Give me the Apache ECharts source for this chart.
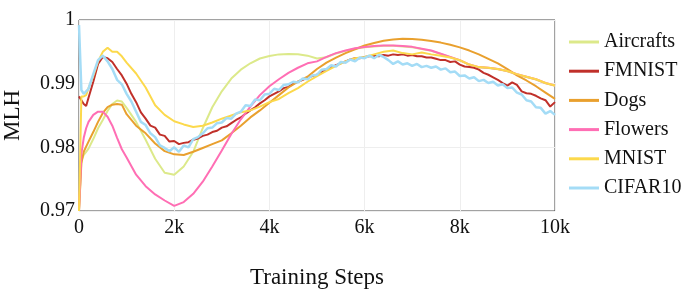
<!DOCTYPE html>
<html>
<head>
<meta charset="utf-8">
<script src="https://cdn.jsdelivr.net/npm/echarts@6/dist/echarts.min.js"></script>
<style>html,body{margin:0;padding:0;background:#fff;}#c{width:700px;height:291px;}</style>
</head>
<body>
<div id="c"></div>
<script>
const steps = [0,50,100,150,200,300,400,500,600,700,800,900,1000,
  1200,1400,1600,1800,2000,2200,2400,2600,2800,3000,3200,3400,3600,3800,4000,
  4200,4400,4600,4800,5000,5200,5400,5600,5800,6000,6200,6400,6600,6800,7000,
  7200,7400,7600,7800,8000,8200,8400,8600,8800,9000,9200,9400,9600,9800,10000];

const fineSteps = [0,50,100,150,200,300,400,500,600,700,800,900,1000,
  1100,1200,1300,1400,1500,1600,1700,1800,1900,2000,2100,2200,2300,2400,2500,2600,2700,2800,2900,3000,
  3100,3200,3300,3400,3500,3600,3700,3800,3900,4000,4100,4200,4300,4400,4500,4600,4700,4800,4900,5000,
  5100,5200,5300,5400,5500,5600,5700,5800,5900,6000,6100,6200,6300,6400,6500,6600,6700,6800,6900,7000,
  7100,7200,7300,7400,7500,7600,7700,7800,7900,8000,8100,8200,8300,8400,8500,8600,8700,8800,8900,9000,
  9100,9200,9300,9400,9500,9600,9700,9800,9900,10000];

const aircrafts = [0.970,0.9780,0.9788,0.9793,0.9798,0.9813,0.9830,0.9843,0.9857,0.9868,0.98735,0.9872,0.9862,
  0.9840,0.9812,0.9782,0.9760,0.9757,0.9770,0.9793,0.9830,0.9863,0.9888,0.9908,0.9922,0.9932,0.99395,0.99435,
  0.9946,0.99466,0.99463,0.9944,0.99395,0.99415,0.99475,0.99515,0.9955,0.99571,0.99585,0.99595,0.99595,0.99585,0.99573,
  0.99545,0.99515,0.99465,0.99415,0.99365,0.99295,0.99255,0.99245,0.99225,0.99195,0.99145,0.99105,0.99065,0.99005,0.98965];

const fmnist = [0.9880,0.9874,0.9868,0.9865,0.9878,0.9903,0.9931,0.9942,0.9940,0.9934,0.9923,0.9913,0.9900,
  0.9884,0.9871,0.9855,0.9845,0.9834,0.9831,0.9820,0.9818,0.9809,0.9810,0.9805,0.9807,0.9808,0.9812,0.9814,0.9818,0.9820,0.9824,0.9826,0.9831,
  0.9833,0.9838,0.9843,0.9847,0.9853,0.9858,0.9863,0.9869,0.9874,0.9880,0.9884,0.9888,0.9893,0.9895,0.9900,0.9903,0.9906,0.9909,0.9912,0.9914,
  0.9919,0.9922,0.9926,0.9929,0.9932,0.9935,0.9938,0.9940,0.9940,0.9942,0.9943,0.9944,0.9943,0.9945,0.9944,0.9946,0.9945,0.9946,0.9944,0.9945,
  0.9943,0.9943,0.9941,0.9941,0.9939,0.9937,0.9937,0.9934,0.9935,0.9930,0.9927,0.9926,0.9925,0.9922,0.9917,0.9914,0.9910,0.9906,0.9901,0.9897,
  0.9902,0.9898,0.9888,0.9885,0.9884,0.9881,0.9877,0.9874,0.9864,0.9871];

const dogs = [0.970,0.9775,0.9793,0.9801,0.9809,0.9824,0.9840,0.9854,0.9863,0.9867,0.9868,0.9867,0.9852,
  0.9834,0.9822,0.9806,0.9794,0.9789,0.9788,0.9793,0.9799,0.9805,0.9811,0.9822,0.9834,0.9847,0.9858,0.9870,
  0.9882,0.9894,0.9903,0.9911,0.9923,0.9933,0.9941,0.9948,0.9954,0.9960,0.9964,0.99675,0.99695,0.99705,0.9970,
  0.9969,0.9967,0.99645,0.9961,0.9957,0.9952,0.9946,0.9939,0.9932,0.9923,0.9913,0.9905,0.9896,0.9886,0.9876];

const flowers = [0.970,0.9790,0.9815,0.9830,0.9840,0.9851,0.9856,0.9856,0.9848,0.9834,0.9815,0.9797,0.9784,
  0.9757,0.9739,0.9726,0.97165,0.9708,0.9714,0.9727,0.9746,0.9770,0.9795,0.9821,0.9844,0.9864,0.9882,0.9896,
  0.9907,0.9917,0.9925,0.9932,0.9935,0.9942,0.9948,0.9952,0.99555,0.99576,0.9959,0.9960,0.9960,0.9959,0.99578,
  0.9955,0.9952,0.9947,0.9942,0.9937,0.9930,0.9926,0.9925,0.9923,0.9920,0.9915,0.9911,0.9907,0.9901,0.9897];

const mnist = [0.970,0.9880,0.9880,0.9882,0.9893,0.9912,0.9935,0.9950,0.99566,0.9950,0.9950,0.9943,0.9933,
  0.9916,0.9894,0.9866,0.9851,0.9841,0.9836,0.9832,0.9834,0.9839,0.9845,0.9850,0.9855,0.9858,0.9864,0.9871,
  0.9876,0.9885,0.9893,0.9903,0.9912,0.9920,0.9928,0.9935,0.9940,0.9942,0.9946,0.9950,0.9952,0.9948,0.9946,
  0.9949,0.9946,0.9944,0.9941,0.9937,0.9930,0.9926,0.9925,0.9923,0.9920,0.9915,0.9911,0.9907,0.9901,0.9897];

const cifar10 = [0.9992,0.9890,0.9884,0.9888,0.9892,0.9915,0.9937,0.9944,0.9935,0.9923,0.9906,0.9899,0.9884,
  0.9872,0.9856,0.9840,0.9835,0.9822,0.9816,0.9803,0.9799,0.9794,0.9800,0.9793,0.9803,0.9800,0.9813,0.9816,0.9822,0.9830,0.9831,0.9838,0.9839,
  0.9846,0.9845,0.9853,0.9856,0.9866,0.9865,0.9875,0.9874,0.9883,0.9884,0.9892,0.9890,0.9898,0.9899,0.9903,0.9902,0.9908,0.9907,0.9913,0.9914,
  0.9922,0.9923,0.9929,0.9927,0.9934,0.9933,0.9938,0.9935,0.9941,0.9940,0.9944,0.9940,0.9945,0.9942,0.9937,0.9931,0.9935,0.9930,0.9932,0.9928,
  0.9931,0.9926,0.9928,0.9925,0.9927,0.9922,0.9924,0.9918,0.9919,0.9912,0.9913,0.9908,0.9910,0.9904,0.9906,0.9901,0.9903,0.9897,0.9899,0.9893,
  0.9894,0.9886,0.9883,0.9874,0.9872,0.9863,0.9862,0.9853,0.9857,0.9851];

const seriesNames = ['Aircrafts','FMNIST','Dogs','Flowers','MNIST','CIFAR10'];
const seriesValues = [aircrafts, fmnist, dogs, flowers, mnist, cifar10];
const seriesSteps = [steps, fineSteps, steps, steps, steps, fineSteps];
const seriesColors = ['#dce98a','#c0302a','#e9a02e','#ff6eb4','#fcd94c','#a4dcf6'];
const seriesWidths = [2,2,2,2,2,2.5];

const FONT = '"Liberation Serif", "Times New Roman", serif';
const chart = echarts.init(document.getElementById('c'), null, {renderer:'canvas'});
chart.setOption({
  animation: false,
  backgroundColor: '#fff',
  grid: {left: 79, right: 145, top: 20, bottom: 80, show: true, borderColor: '#444', borderWidth: 1,
    backgroundColor: 'transparent', containLabel: false, outerBoundsMode: 'none'},
  legend: {
    orient: 'vertical', left: 569, top: 32, padding: 0, itemWidth: 30, itemHeight: 3, itemGap: 9.2, icon: 'rect',
    textStyle: {fontFamily: FONT, fontSize: 20, color: '#111', lineHeight: 20},
    data: seriesNames
  },
  xAxis: {
    type: 'value', min: 0, max: 10000, interval: 2000,
    name: 'Training Steps', nameLocation: 'middle', nameGap: 55,
    nameTextStyle: {fontFamily: FONT, fontSize: 23, color: '#111'},
    axisLine: {show: false}, axisTick: {show: false},
    axisLabel: {fontFamily: FONT, fontSize: 20, color: '#111', margin: 7,
      formatter: v => v === 0 ? '0' : (v/1000) + 'k'},
    splitLine: {show: true, lineStyle: {color: '#eeeeee', width: 1}}
  },
  yAxis: {
    type: 'value', min: 0.97, max: 1.0, interval: 0.01,
    name: 'MLH', nameLocation: 'middle', nameGap: 55,
    nameTextStyle: {fontFamily: FONT, fontSize: 23, color: '#111'},
    axisLine: {show: false}, axisTick: {show: false},
    axisLabel: {fontFamily: FONT, fontSize: 20, color: '#111', margin: 4,
      formatter: v => String(+v.toFixed(2))},
    splitLine: {show: true, lineStyle: {color: '#eeeeee', width: 1}}
  },
  series: seriesNames.map((n, k) => ({
    name: n, type: 'line', symbol: 'none', smooth: false,
    data: seriesSteps[k].map((s, i) => [s, seriesValues[k][i]]),
    lineStyle: {color: seriesColors[k], width: seriesWidths[k]},
    itemStyle: {color: seriesColors[k]}
  }))
});
</script>
</body>
</html>
